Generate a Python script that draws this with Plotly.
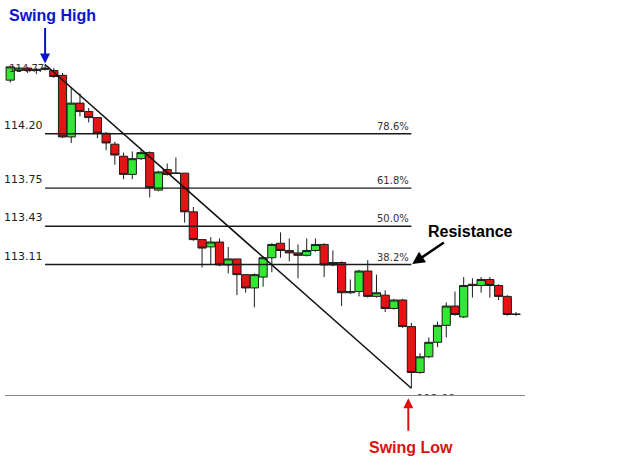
import plotly.graph_objects as go

# ---- data (prices) ----
opens = [114.64, 114.72, 114.74, 114.73, 114.74, 114.72, 114.68, 114.17, 114.45, 114.38,
         114.33, 114.20, 114.11, 114.01, 113.86, 113.99, 114.04, 113.73, 113.90, 113.872,
         113.87, 113.55, 113.32, 113.26, 113.30, 113.11, 113.16, 113.03, 112.92, 113.01,
         113.17, 113.29, 113.23, 113.21, 113.19, 113.23, 113.28, 113.11, 113.13, 112.88,
         112.89, 113.06, 112.85, 112.86, 112.75, 112.82, 112.60, 112.22, 112.35, 112.47,
         112.61, 112.77, 112.68, 112.95, 112.94, 112.99, 112.94, 112.85, 112.705]
highs = [114.76, 114.75, 114.75, 114.74, 114.77, 114.74, 114.70, 114.58, 114.53, 114.41,
         114.33, 114.21, 114.13, 114.04, 114.05, 114.06, 114.05, 113.89, 113.95, 114.00,
         113.87, 113.59, 113.32, 113.34, 113.33, 113.26, 113.16, 113.03, 113.04, 113.18,
         113.29, 113.38, 113.33, 113.28, 113.33, 113.33, 113.29, 113.23, 113.14, 112.99,
         113.07, 113.15, 113.03, 112.90, 112.83, 112.83, 112.63, 112.38, 112.51, 112.64,
         112.80, 112.89, 113.01, 113.00, 113.01, 113.01, 112.95, 112.86, 112.72]
lows = [114.62, 114.71, 114.70, 114.69, 114.72, 114.66, 114.16, 114.12, 114.34, 114.29,
        114.16, 114.06, 113.94, 113.82, 113.82, 113.98, 113.67, 113.72, 113.85, 113.865,
        113.46, 113.31, 113.09, 113.11, 113.10, 113.04, 112.86, 112.88, 112.76, 112.93,
        113.05, 113.17, 113.14, 113.00, 113.18, 113.22, 113.01, 113.10, 112.77, 112.87,
        112.85, 112.84, 112.84, 112.72, 112.74, 112.59, 112.09, 112.21, 112.34, 112.43,
        112.51, 112.69, 112.67, 112.84, 112.88, 112.84, 112.82, 112.69, 112.69]
closes = [114.75, 114.74, 114.72, 114.72, 114.73, 114.67, 114.17, 114.45, 114.38, 114.33,
          114.20, 114.12, 114.02, 113.86, 113.99, 114.04, 113.75, 113.88, 113.86, 113.868,
          113.55, 113.32, 113.25, 113.30, 113.11, 113.16, 113.03, 112.92, 113.03, 113.17,
          113.28, 113.23, 113.21, 113.19, 113.23, 113.28, 113.11, 113.13, 112.88, 112.89,
          113.06, 112.85, 112.88, 112.75, 112.82, 112.60, 112.22, 112.35, 112.47, 112.61,
          112.77, 112.70, 112.94, 112.94, 112.99, 112.94, 112.85, 112.70, 112.70]
bars = list(range(len(opens)))

swing_high_idx = 4
swing_low_idx = 46
swing_high = 114.77
swing_low = 112.09
fib_ratios = [0.786, 0.618, 0.500, 0.382]
fib_labels = ["78.6%", "61.8%", "50.0%", "38.2%"]

GREEN = "#33e833"
RED = "#e41414"
EDGE = "#1c1c1c"

fig = go.Figure()

# swing-high price label (under the candles)
fig.add_trace(go.Scatter(
    x=[swing_high_idx - 0.1], y=[swing_high], mode="text", text=[f"{swing_high:.2f}"],
    textposition="bottom left", textfont=dict(family="DejaVu Sans", size=10, color="#333"),
    hoverinfo="skip", showlegend=False, cliponaxis=True))

# swing-low price label (partly clipped by the axis line)
fig.add_trace(go.Scatter(
    x=[swing_low_idx], y=[swing_low], mode="markers+text", text=[f"{swing_low:.2f}"],
    marker=dict(size=7, opacity=0),
    textposition="bottom right", textfont=dict(family="DejaVu Sans", size=11, color="#333"),
    hoverinfo="skip", showlegend=False, cliponaxis=True))

# fibonacci levels
rng = swing_high - swing_low
for r, lab in zip(fib_ratios, fib_labels):
    lvl = swing_low + r * rng
    fig.add_trace(go.Scatter(
        x=[swing_high_idx, swing_low_idx], y=[lvl, lvl], mode="lines",
        line=dict(color="#1a1a1a", width=1.4), hoverinfo="skip", showlegend=False))
    fig.add_annotation(x=swing_low_idx, y=lvl, xref="x", yref="y", text=lab,
                       showarrow=False, xanchor="right", yanchor="bottom",
                       font=dict(family="DejaVu Sans", size=10, color="#333"))
    fig.add_annotation(x=swing_high_idx, y=lvl, xref="x", yref="y", text=f"{lvl:.2f}",
                       showarrow=False, xanchor="right", yanchor="bottom",
                       font=dict(family="DejaVu Sans", size=11, color="#222"))

# trend line swing high -> swing low
fig.add_trace(go.Scatter(
    x=[swing_high_idx, swing_low_idx], y=[swing_high, swing_low], mode="lines",
    line=dict(color="#111", width=1.5), hoverinfo="skip", showlegend=False))

# candles
fig.add_trace(go.Candlestick(
    x=bars, open=opens, high=highs, low=lows, close=closes,
    increasing=dict(fillcolor=GREEN, line=dict(color=EDGE, width=1)),
    decreasing=dict(fillcolor=RED, line=dict(color=EDGE, width=1)),
    whiskerwidth=0, showlegend=False))

# Swing High
fig.add_annotation(x=0.0904, y=0.962, xref="paper", yref="paper", text="<b>Swing High</b>",
                   xanchor="center", yanchor="middle",
                   showarrow=False, font=dict(family="Liberation Sans", size=16, color="#0a14d0"))
fig.add_annotation(x=swing_high_idx, y=swing_high, xref="x", yref="y", text="",
                   showarrow=True, ax=0, ay=-38, arrowhead=2, arrowsize=1, arrowwidth=2,
                   arrowcolor="#0a14d0", standoff=1)
# Swing Low
fig.add_annotation(x=swing_low_idx, y=-0.134, xref="x", yref="paper", text="<b>Swing Low</b>",
                   xanchor="center", yanchor="middle",
                   showarrow=False, font=dict(family="Liberation Sans", size=16, color="#dd1111"))
fig.add_annotation(x=swing_low_idx - 0.35, y=-0.008, xref="x", yref="paper", text="",
                   showarrow=True, ax=0, ay=34, arrowhead=2, arrowsize=1, arrowwidth=2,
                   arrowcolor="#dd1111", standoff=0)
# Resistance
fig.add_annotation(x=0.896, y=0.415, xref="paper", yref="paper", text="<b>Resistance</b>",
                   xanchor="center", yanchor="middle",
                   showarrow=False, font=dict(family="Liberation Sans", size=16, color="#000"))
fig.add_annotation(x=swing_low_idx, y=swing_low + 0.382 * rng, xref="x", yref="y", text="",
                   showarrow=True, ax=34, ay=-23, arrowhead=2, arrowsize=1, arrowwidth=2.5,
                   arrowcolor="#000", standoff=1)

fig.update_layout(
    width=640, height=469,
    margin=dict(l=5, r=115, t=0, b=74),
    paper_bgcolor="white", plot_bgcolor="white",
    boxgap=0.06, boxgroupgap=0,
    showlegend=False,
    xaxis=dict(range=[-0.596, 59.03], showgrid=False, zeroline=False, showticklabels=False,
               ticks="", showline=True, linecolor="#8a8a8a", linewidth=1,
               rangeslider=dict(visible=False)),
    yaxis=dict(range=[112.0337, 115.3035], showgrid=False, zeroline=False,
               showticklabels=False, ticks="", showline=False),
)

fig.write_html("out.html", config={"displayModeBar": False},
               post_script="document.body.style.margin='0';document.body.style.padding='0';")
